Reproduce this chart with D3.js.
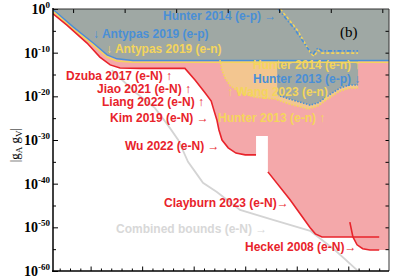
<!DOCTYPE html>
<html>
<head>
<meta charset="utf-8">
<script src="https://cdn.jsdelivr.net/npm/d3@7/dist/d3.min.js"></script>
<style>
  body { margin: 0; background: #fff; }
  svg { display: block; }
  .lbl { font-family: "Liberation Sans", Arial, sans-serif; font-weight: bold; font-size: 12px; }
  .serif { font-family: "Liberation Serif", "Times New Roman", serif; }
</style>
</head>
<body>
<div class="mainContainer"></div>
<script>
// bounds on log10|gA gV|, x in bottom-axis units (axis carries no labels)
const antypasEp = [[-0.73,-0.1],[-0.34,-4.1],[0.05,-7.8],[0.32,-10.5],[0.51,-11.4],[0.82,-11.8],[5.79,-11.8]];
const antypasEn = [[-0.73,-0.5],[-0.34,-4.6],[0.05,-8.2],[0.32,-11.0],[0.51,-11.9],[0.82,-12.2],[5.79,-12.2]];
const eNupper = [[-0.73,-1.1],[-0.46,-3.7],[-0.07,-7.8],[0.18,-11.0],[0.38,-12.8],[0.57,-13.5],[0.96,-13.6],
  [1.83,-13.6],[2.03,-16.3],[2.22,-19.2],[2.34,-21.1],[2.39,-23.1],[2.45,-25.4],[2.49,-27.7],[2.55,-30.0],
  [2.67,-31.8],[2.82,-33.0],[3.0,-33.4],[3.21,-33.4]];
const gapX = [3.21, 3.44];
const gapTop = -29.1;
const clayburn = [[3.44,-37.3],[3.87,-43.7],[4.26,-50.1],[4.36,-51.5],[4.49,-52.2],[5.6,-52.2]];
const heckel = [[5.03,-48.8],[5.09,-52.2],[5.17,-54.0],[5.28,-54.9],[5.42,-55.2],[5.6,-55.2]];
const wangEn = [[2.51,-11.7],[2.55,-14.0],[2.61,-15.8],[2.71,-17.6],[2.9,-19.2],[3.19,-20.2],[3.58,-20.6],
  [3.87,-21.8],[4.22,-22.9],[4.41,-22.2],[4.65,-20.2],[4.84,-18.8],[5.03,-18.1],[5.19,-18.1]];
const hunter2013Ep = [[3.62,-19.7],[3.91,-20.8],[4.26,-22.0],[4.41,-21.5],[4.65,-19.5],[4.84,-18.1],[5.03,-17.4],[5.19,-17.4]];
const hunter2014Ep = [[3.64,0],[3.97,-4.8],[4.26,-9.8],[4.32,-10.3],[4.41,-8.9],[4.49,-9.6],[5.19,-9.6]];
const hunter2014En = [[3.68,0],[4.01,-4.8],[4.28,-10.3],[4.34,-10.8],[4.41,-9.4],[4.49,-10.1],[5.19,-10.1]];
const combined = [[0.41,-14.0],[0.86,-19.0],[1.25,-22.7],[1.50,-26.6],[1.70,-30.0],[1.89,-35.0],[2.03,-37.3],
  [2.18,-39.8],[2.45,-41.9],[2.90,-46.0],[3.54,-48.3],[4.26,-50.8],[4.74,-55.2],[5.17,-59.8]];
const yTicks = [0, -10, -20, -30, -40, -50, -60];

const labels = [
  {t: "Hunter 2014 (e-p) →", x: 163, y: 15, c: "blue"},
  {t: "↓ Antypas 2019 (e-p)", x: 93, y: 33, c: "blue"},
  {t: "↓ Antypas 2019 (e-n)", x: 106, y: 48, c: "yellow"},
  {t: "Hunter 2014 (e-n) ↑", x: 253, y: 64, c: "yellow"},
  {t: "Hunter 2013 (e-p) ↓", x: 253, y: 78, c: "blue"},
  {t: "↑ Wang 2023 (e-n)", x: 227, y: 91, c: "yellow"},
  {t: "Hunter 2013 (e-n) ↑", x: 218, y: 117, c: "yellow"},
  {t: "Dzuba 2017 (e-N) ↑", x: 66, y: 75, c: "red"},
  {t: "Jiao 2021 (e-N) ↑", x: 97, y: 88, c: "red"},
  {t: "Liang 2022 (e-N) ↑", x: 102, y: 101, c: "red"},
  {t: "Kim 2019 (e-N) →", x: 110, y: 117, c: "red"},
  {t: "Wu 2022 (e-N) →", x: 125, y: 145, c: "red"},
  {t: "Clayburn 2023 (e-N)→", x: 164, y: 202, c: "red"},
  {t: "Combined bounds (e-N) →", x: 116, y: 228, c: "gray"},
  {t: "Heckel 2008 (e-N)→", x: 245, y: 246, c: "red"}
];

const col = {red: "#e8232b", blue: "#4a8fd6", yellow: "#f4d55c", gray: "#d8d8d8",
  pink: "#f4a8aa", orange: "#f3c690", slate: "#9fa8a4"};

let width = 399, height = 280;
let x = d3.scaleLinear().domain([-0.73, 5.79]).range([53, 389]);
let xTop = d3.scaleLinear().domain([-0.39, 6.13]).range([53, 389]);
let y = d3.scaleLinear().domain([-60, 0]).range([271, 9]);

let svg = d3.select(".mainContainer").append("svg")
  .attr("width", width).attr("height", height);

svg.append("clipPath").attr("id", "plot")
  .append("rect").attr("x", 53).attr("y", 9).attr("width", 336).attr("height", 262);

const line = d3.line().x(d => x(d[0])).y(d => y(d[1]));
const g = svg.append("g").attr("clip-path", "url(#plot)");

// pink: union of e-N limits
const cross = heckel[1][0];
const xMin = x.domain()[0], xMax = x.domain()[1];
const pink = [].concat(
  eNupper,
  [[gapX[0], gapTop], [gapX[1], gapTop]],
  clayburn.filter(d => d[0] < cross),
  heckel.slice(1),
  [[xMax, heckel[heckel.length - 1][1]], [xMax, 0], [xMin, 0]]
);
g.append("path").attr("d", line(pink) + "Z").attr("fill", col.pink);

// e-n only (Hunter / Wang)
const orange = wangEn.concat([[wangEn[wangEn.length - 1][0], -11.7]]);
g.append("path").attr("d", line(orange) + "Z").attr("fill", col.orange);

// e-p and e-n overlap
const slate1 = [[xMin, 0], [xMax, 0]].concat(antypasEp.slice().reverse());
g.append("path").attr("d", line(slate1) + "Z").attr("fill", col.slate);
const slate2 = [[hunter2013Ep[0][0], -11.8]].concat(hunter2013Ep, [[hunter2013Ep[hunter2013Ep.length - 1][0], -11.8]]);
g.append("path").attr("d", line(slate2) + "Z").attr("fill", col.slate);

// combined bounds
g.append("path").attr("d", line(combined)).attr("fill", "none")
  .attr("stroke", "#d4d4d4").attr("stroke-width", 1.8);

// limit lines
g.append("path").attr("d", line(antypasEn)).attr("fill", "none").attr("stroke", col.yellow).attr("stroke-width", 1.6);
g.append("path").attr("d", line(antypasEp)).attr("fill", "none").attr("stroke", col.blue).attr("stroke-width", 1.4);
[eNupper, clayburn, heckel].forEach(d => {
  g.append("path").attr("d", line(d)).attr("fill", "none").attr("stroke", col.red).attr("stroke-width", 1.6);
});
g.append("path").attr("d", line(wangEn)).attr("fill", "none").attr("stroke", col.yellow)
  .attr("stroke-width", 1.8).attr("stroke-dasharray", "1.5,1.5");
g.append("path").attr("d", line(hunter2013Ep)).attr("fill", "none").attr("stroke", col.blue)
  .attr("stroke-width", 1.6).attr("stroke-dasharray", "1.5,1.5");
g.append("path").attr("d", line(hunter2014En)).attr("fill", "none").attr("stroke", col.yellow)
  .attr("stroke-width", 1.6).attr("stroke-dasharray", "3,2");
g.append("path").attr("d", line(hunter2014Ep)).attr("fill", "none").attr("stroke", col.blue)
  .attr("stroke-width", 1.6).attr("stroke-dasharray", "4,2,1.5,2");

// labels
svg.selectAll(".lbl").data(labels).enter().append("text")
  .attr("class", "lbl")
  .attr("x", d => d.x).attr("y", d => d.y + 4.5)
  .attr("fill", d => col[d.c])
  .text(d => d.t);

svg.append("text").attr("class", "serif").attr("x", 340).attr("y", 37)
  .style("font-size", "15px").text("(b)");

// axes
const minorX = d3.range(-0.6, 5.8, 0.2).filter(v => Math.abs(v - Math.round(v)) > 0.01);
svg.append("g").attr("transform", "translate(0,271)")
  .call(d3.axisBottom(x).tickValues(minorX).tickSize(-2.5).tickFormat(""))
  .call(a => a.select(".domain").remove());
svg.append("g").attr("transform", "translate(0,271)")
  .call(d3.axisBottom(x).tickValues(d3.range(0, 6)).tickSize(-4.5).tickFormat(""))
  .call(a => a.select(".domain").remove());
svg.append("g").attr("transform", "translate(0,9)")
  .call(d3.axisTop(xTop).tickValues(d3.range(0, 7)).tickSize(-4).tickFormat(""))
  .call(a => a.select(".domain").remove());
svg.append("g").attr("transform", "translate(53,0)")
  .call(d3.axisLeft(y).tickValues(d3.range(-55, 0, 10)).tickSize(-3).tickFormat(""))
  .call(a => a.select(".domain").remove());
svg.append("g").attr("transform", "translate(53,0)")
  .call(d3.axisLeft(y).tickValues(yTicks).tickSize(-5).tickFormat(""))
  .call(a => a.select(".domain").remove());
svg.append("g").attr("transform", "translate(389,0)")
  .call(d3.axisRight(y).tickValues(d3.range(-55, 0, 5)).tickSize(-3.5).tickFormat(""))
  .call(a => a.select(".domain").remove());

svg.append("line").attr("x1", 389).attr("x2", 389).attr("y1", 9).attr("y2", 271).attr("stroke", "#333").attr("stroke-width", 1);
svg.append("line").attr("x1", 53).attr("x2", 389).attr("y1", 9).attr("y2", 9).attr("stroke", "#333").attr("stroke-width", 1);
svg.append("line").attr("x1", 53).attr("x2", 53).attr("y1", 8).attr("y2", 272).attr("stroke", "#000").attr("stroke-width", 1.5);
svg.append("line").attr("x1", 52).attr("x2", 389).attr("y1", 271).attr("y2", 271).attr("stroke", "#000").attr("stroke-width", 1.5);

// y tick labels
const yl = svg.selectAll(".ylab").data(yTicks).enter().append("text")
  .attr("class", "serif").attr("text-anchor", "end")
  .attr("x", 50).attr("y", d => y(d) + 5)
  .style("font-size", "14px").style("font-weight", "bold");
yl.append("tspan").text("10");
yl.append("tspan").attr("dy", -6).style("font-size", "9px").text(d => d === 0 ? "0" : "-" + (-d));

// y title
const yt = svg.append("text").attr("class", "serif")
  .attr("transform", "translate(19,145) rotate(-90)")
  .attr("text-anchor", "middle").style("font-size", "13px");
yt.append("tspan").text("|g");
yt.append("tspan").attr("dy", 3).style("font-size", "9px").text("A");
yt.append("tspan").attr("dy", -3).text(" g");
yt.append("tspan").attr("dy", 3).style("font-size", "9px").text("V");
yt.append("tspan").attr("dy", -3).text("|");
</script>
</body>
</html>
